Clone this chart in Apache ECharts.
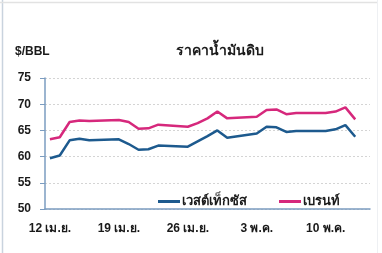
<!DOCTYPE html>
<html><head><meta charset="utf-8">
<script src="https://cdn.jsdelivr.net/npm/echarts@6/dist/echarts.min.js"></script>
<style>html,body{margin:0;padding:0;background:#fff}#c{width:382px;height:253px}</style>
</head><body><div id="c"></div>
<script>
// Calendar days 12 เม.ย. – 14 พ.ค. (weekends have no trading data)
const days = [
 "12 เม.ย.","13 เม.ย.","14 เม.ย.","15 เม.ย.","16 เม.ย.","17 เม.ย.","18 เม.ย.",
 "19 เม.ย.","20 เม.ย.","21 เม.ย.","22 เม.ย.","23 เม.ย.","24 เม.ย.","25 เม.ย.",
 "26 เม.ย.","27 เม.ย.","28 เม.ย.","29 เม.ย.","30 เม.ย.","1 พ.ค.","2 พ.ค.",
 "3 พ.ค.","4 พ.ค.","5 พ.ค.","6 พ.ค.","7 พ.ค.","8 พ.ค.","9 พ.ค.",
 "10 พ.ค.","11 พ.ค.","12 พ.ค.","13 พ.ค.","14 พ.ค."
];
const wti = [
 59.7,60.2,63.1,63.4,63.1,null,null,
 63.3,62.4,61.3,61.4,62.1,null,null,
 61.9,62.9,63.9,65.0,63.6,null,null,
 64.4,65.7,65.6,64.7,64.9,null,null,
 64.9,65.2,66.0,63.8,null
];
const brent = [
 63.3,63.7,66.6,66.9,66.8,null,null,
 67.0,66.6,65.3,65.4,66.1,null,null,
 65.7,66.4,67.3,68.6,67.3,null,null,
 67.6,68.9,69.0,68.1,68.3,null,null,
 68.3,68.6,69.4,67.1,null
];
const seriesNames = ["เวสต์เท็กซัส","เบรนท์"];
const yTicks = {min:50, max:75, step:5};
const titleText = "ราคาน้ำมันดิบ";
const unitText = "$/BBL";

const font = "'Liberation Sans', Arial, 'Noto Sans', sans-serif";
const chart = echarts.init(document.getElementById('c'), null, {renderer:'canvas'});
chart.setOption({
  animation:false,
  backgroundColor:'#fff',
  graphic:[
    {type:'line', shape:{x1:2.5,y1:0,x2:2.5,y2:253}, style:{stroke:'#c9d3de',lineWidth:1.5}},
    {type:'line', shape:{x1:0,y1:2.5,x2:377,y2:2.5}, style:{stroke:'#e2e2e2',lineWidth:1.5}},
    {type:'line', shape:{x1:377.5,y1:0,x2:377.5,y2:253}, style:{stroke:'#eef0f3',lineWidth:1}},
    {type:'text', left:15, top:46, style:{text:unitText, font:"bold 12px "+font, fill:'#1a1a1a'}},
    {type:'text', left:176, top:44, style:{text:titleText, font:"bold 14px "+font, fill:'#1a1a1a'}}
  ],
  grid:{left:45, right:12, top:78, bottom:44, containLabel:false},
  legend:{
    left:153, top:190, itemWidth:22, itemHeight:3, itemGap:32,
    icon:'rect',
    textStyle:{fontSize:13, fontWeight:'bold', color:'#1a1a1a', fontFamily:font, padding:[0,0,0,-3]},
    data:seriesNames
  },
  xAxis:{
    type:'category', data:days, boundaryGap:true,
    axisLine:{lineStyle:{color:'#7b9cc0', width:1.5}},
    axisTick:{interval:6, length:5, lineStyle:{color:'#7b9cc0'}},
    axisLabel:{interval:6, margin:14, fontSize:12, fontWeight:'bold', color:'#1a1a1a', fontFamily:font}
  },
  yAxis:{
    type:'value', min:yTicks.min, max:yTicks.max, interval:yTicks.step,
    axisLine:{show:true, lineStyle:{color:'#7b9cc0', width:1.5}},
    axisTick:{show:true, length:5, lineStyle:{color:'#7b9cc0'}},
    axisLabel:{margin:14, fontSize:12, fontWeight:'bold', color:'#1a1a1a', fontFamily:font},
    splitLine:{show:true, lineStyle:{color:'#d4d4d4', type:[2,2], width:1}}
  },
  series:[
    {name:seriesNames[0], type:'line', data:wti, connectNulls:true, showSymbol:false, symbol:'none',
     lineStyle:{color:'#1d5a8e', width:2.5}, itemStyle:{color:'#1d5a8e'}},
    {name:seriesNames[1], type:'line', data:brent, connectNulls:true, showSymbol:false, symbol:'none',
     lineStyle:{color:'#d6287c', width:2.5}, itemStyle:{color:'#d6287c'}}
  ]
});
</script></body></html>
